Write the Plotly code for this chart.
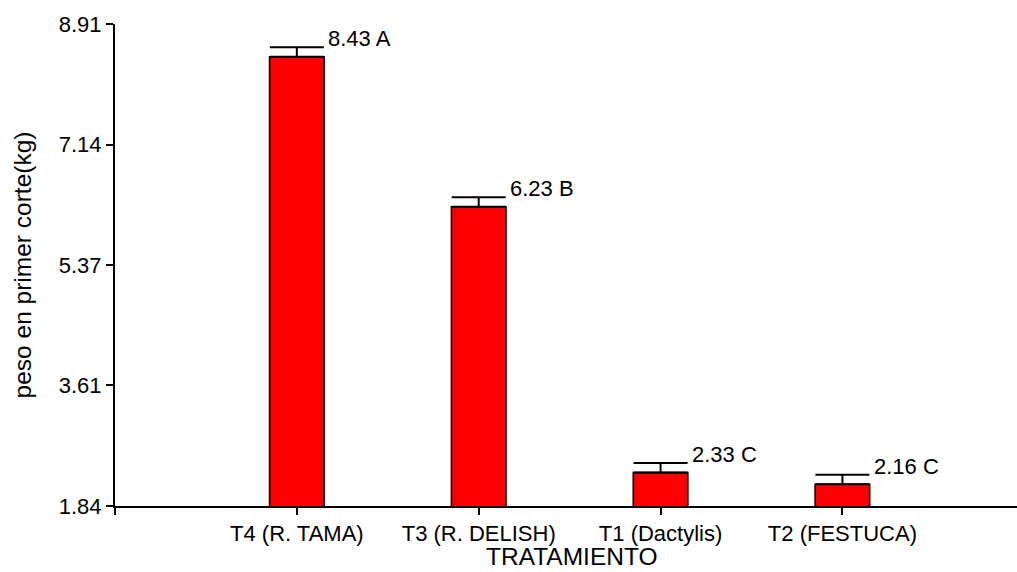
import plotly.graph_objects as go

# Treatment categories and first-cut weight results
categories = ["T4 (R. TAMA)", "T3 (R. DELISH)", "T1 (Dactylis)", "T2 (FESTUCA)"]
means = [8.43, 6.23, 2.33, 2.16]
errors = [0.14, 0.14, 0.14, 0.14]
groups = ["A", "B", "C", "C"]
y_ticks = [1.84, 3.61, 5.37, 7.14, 8.91]

FONT = "Arial, 'Liberation Sans', sans-serif"
positions = list(range(len(categories)))
bar_width = 0.3

fig = go.Figure()
fig.add_trace(go.Bar(
    x=positions,
    y=means,
    width=bar_width,
    marker=dict(color="#FF0000", line=dict(color="black", width=1.6)),
    error_y=dict(
        type="data",
        symmetric=False,
        array=errors,
        arrayminus=[0] * len(errors),
        color="black",
        thickness=2,
        width=27,
    ),
    showlegend=False,
    hoverinfo="skip",
))

# Mean value and grouping letter beside each error bar
for pos, m, e, g in zip(positions, means, errors, groups):
    fig.add_annotation(
        x=pos + bar_width / 2,
        y=m + e,
        text=f"{m:.2f} {g}",
        showarrow=False,
        xanchor="left",
        yanchor="bottom",
        xshift=2,
        yshift=-6,
        font=dict(family=FONT, size=22, color="black"),
    )

# Horizontal axis title
fig.add_annotation(
    xref="paper", yref="paper",
    x=0.507, y=0,
    text="TRATAMIENTO",
    showarrow=False,
    xanchor="center",
    yanchor="bottom",
    yshift=-66,
    font=dict(family=FONT, size=24.5, color="black"),
)

fig.update_layout(
    width=1017,
    height=572,
    margin=dict(l=115, r=0, t=24, b=66),
    paper_bgcolor="white",
    plot_bgcolor="white",
    font=dict(family=FONT, color="black"),
    xaxis=dict(
        range=[-1, 3.96],
        tickvals=[-1] + positions,
        ticktext=[""] + categories,
        ticks="outside",
        ticklen=7,
        tickwidth=2,
        tickcolor="black",
        showline=True,
        linecolor="black",
        linewidth=2,
        showgrid=False,
        zeroline=False,
        automargin=False,
        tickfont=dict(size=22),
    ),
    yaxis=dict(
        range=[1.84, 8.91],
        tickvals=y_ticks,
        ticktext=[f"{v:.2f}" for v in y_ticks],
        ticks="outside",
        ticklen=7,
        tickwidth=2,
        tickcolor="black",
        showline=True,
        linecolor="black",
        linewidth=2,
        showgrid=False,
        zeroline=False,
        automargin=False,
        tickfont=dict(size=22),
        title=dict(text="peso en primer corte(kg)", font=dict(size=24.5), standoff=20),
    ),
)

fig.write_html("out.html")
